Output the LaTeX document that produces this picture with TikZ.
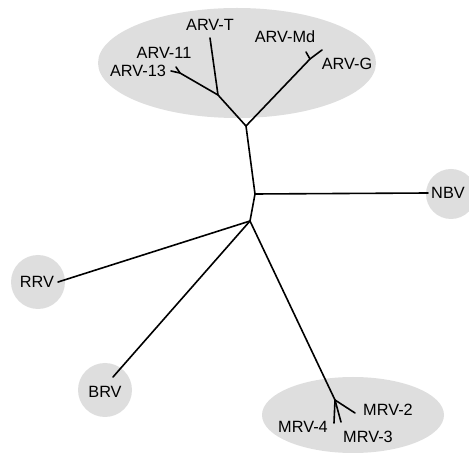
\documentclass[tikz,border=0pt]{standalone}
\usepackage{fontspec}
\setmainfont{Liberation Sans}
\begin{document}
\begin{tikzpicture}[x=1pt,y=-1pt,
  branch/.style={line width=1.6pt,black,line cap=round,line join=round},
  taxon/.style={font=\fontsize{16.3}{18}\selectfont,inner sep=0pt,text=black},
  cluster/.style={fill=black!13,draw=none}]
\useasboundingbox (0,0) rectangle (469,454);
% shaded groups
\fill[cluster] (237,63) ellipse [x radius=139,y radius=55];
\fill[cluster] (353,415) ellipse [x radius=91,y radius=38];
\fill[cluster] (451,194) circle [radius=25];
\fill[cluster] (38,282) circle [radius=27];
\fill[cluster] (105,390) circle [radius=27];
% labels
\node[taxon] (arvt) at (210,25) {ARV-T};
\node[taxon] (arv11) at (164,53) {ARV-11};
\node[taxon] (arv13) at (138,71) {ARV-13};
\node[taxon] (arvmd) at (285,37) {ARV-Md};
\node[taxon] (arvg) at (347,64) {ARV-G};
\node[taxon] (nbv) at (448,193) {NBV};
\node[taxon] (rrv) at (37,282) {RRV};
\node[taxon] (brv) at (105,392) {BRV};
\node[taxon] (mrv2) at (388,410) {MRV-2};
\node[taxon] (mrv4) at (303,427) {MRV-4};
\node[taxon] (mrv3) at (368,437) {MRV-3};
% internal nodes
\coordinate (j1) at (246,126);
\coordinate (j2) at (218,95);
\coordinate (j3) at (255,194);
\coordinate (j4) at (250,221);
\coordinate (fa) at (180,73);
\coordinate (fm) at (310,59);
\coordinate (fr) at (335,400);
% leaf tips
\coordinate (tT) at (210,38);
\coordinate (t11) at (176,67);
\coordinate (t13) at (171,71);
\coordinate (tMd) at (306,52);
\coordinate (tG) at (322,50);
\coordinate (tN) at (428,193);
\coordinate (tR) at (58,282);
\coordinate (tB) at (113,377);
\coordinate (tM2) at (355,413);
\coordinate (tM4) at (334,423);
\coordinate (tM3) at (341,422);
% tree
\draw[branch] (j4) -- (j3) -- (j1) -- (j2) -- (tT);
\draw[branch] (j2) -- (fa) -- (t13);
\draw[branch] (fa) -- (t11);
\draw[branch] (j1) -- (fm) -- (tG);
\draw[branch] (fm) -- (tMd);
\draw[branch] (j3) -- (tN);
\draw[branch] (j4) -- (tR);
\draw[branch] (j4) -- (tB);
\draw[branch] (j4) -- (fr) -- (tM2);
\draw[branch] (fr) -- (tM4);
\draw[branch] (fr) -- (tM3);
\end{tikzpicture}
\end{document}
